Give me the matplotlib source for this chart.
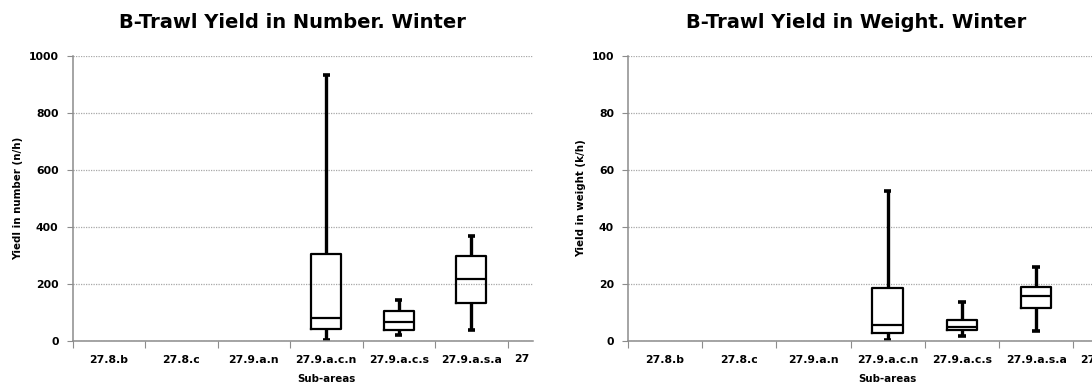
import matplotlib
matplotlib.use("Agg")
import matplotlib.pyplot as plt
from matplotlib.patches import Rectangle

plt.rcParams['font.family'] = ['DejaVu Sans']

# categories (last one is cut off at the chart edge)
sub_areas = ['27.8.b', '27.8.c', '27.9.a.n', '27.9.a.c.n', '27.9.a.c.s', '27.9.a.s.a', '27.9.a.s.c']

# box statistics for the areas that have data: (low, q1, median, q3, high)
box_areas = ['27.9.a.c.n', '27.9.a.c.s', '27.9.a.s.a']
number_low = [2, 20, 38]
number_q1 = [43, 40, 133]
number_med = [79, 67, 216]
number_q3 = [305, 105, 298]
number_high = [932, 143, 370]

weight_low = [0.5, 1.6, 3.4]
weight_q1 = [2.9, 4.0, 11.7]
weight_med = [5.7, 4.8, 15.7]
weight_q3 = [18.7, 7.5, 19.0]
weight_high = [52.7, 13.7, 26.0]

W, H = 1092, 389
fig = plt.figure(figsize=(W / 100, H / 100), dpi=100)

TICK_FS = 7.8
LABEL_FS = 7.4


def make_stats(low, q1, med, q3, high):
    return [dict(whislo=a, q1=b, med=c, q3=d, whishi=e, fliers=[])
            for a, b, c, d, e in zip(low, q1, med, q3, high)]


def draw_panel(ax, stats, title, ylabel, ymax, title_x, xlabel_x, n_cats):
    pos = [sub_areas.index(a) for a in box_areas]
    ax.bxp(stats, positions=pos, widths=0.41, showfliers=False,
           boxprops=dict(color='black', linewidth=1.6),
           medianprops=dict(color='black', linewidth=1.6, solid_capstyle='butt'),
           whiskerprops=dict(color='black', linewidth=2.4, solid_capstyle='butt'),
           capprops=dict(color='black', linewidth=2.6, solid_capstyle='butt'),
           capwidths=0.1, manage_ticks=False)
    ax.set_ylim(0, ymax)
    ax.set_yticks([ymax * i / 5 for i in range(6)])
    ax.set_yticklabels([f"{int(ymax * i / 5)}" for i in range(6)],
                       fontsize=TICK_FS, fontweight='bold')
    ax.yaxis.grid(True, linestyle=(0, (1, 1)), color='#a8a8a8', linewidth=0.9)
    ax.set_axisbelow(True)
    for s in ['top', 'right']:
        ax.spines[s].set_visible(False)
    for s in ['left', 'bottom']:
        ax.spines[s].set_color('#8c8c8c')
        ax.spines[s].set_linewidth(1.1)
    ax.tick_params(axis='y', length=4, color='#8c8c8c', pad=6)
    ax.tick_params(axis='x', which='major', length=5, color='#8c8c8c',
                   labelbottom=False)
    ax.tick_params(axis='x', which='minor', length=0, pad=10)
    ax.set_xticks([i + 0.5 for i in range(-1, n_cats)])
    ax.set_xticks(range(n_cats), minor=True)
    ax.set_xticklabels(sub_areas[:n_cats], minor=True, fontsize=TICK_FS,
                       fontweight='bold')
    ax.set_ylabel(ylabel, fontsize=LABEL_FS, fontweight='bold', labelpad=4)
    ax.set_xlabel('Sub-areas', fontsize=LABEL_FS, fontweight='bold')
    ax.xaxis.set_label_coords(xlabel_x, -0.115)
    fig.text(title_x / W, 1 - 23 / H, title, ha='center', va='center',
             fontsize=14, fontweight='bold')


y_bottom, y_top = 341, 56

# left panel: visible part ends at x = 533 px
cat_px = 72.5
left_x0, left_x1 = 72.5, 533
ax1 = fig.add_axes([left_x0 / W, (H - y_bottom) / H,
                    (left_x1 - left_x0) / W, (y_bottom - y_top) / H])
ax1.set_xlim(-0.5, -0.5 + (left_x1 - left_x0) / cat_px)
draw_panel(ax1, make_stats(number_low, number_q1, number_med, number_q3, number_high),
           'B-Trawl Yield in Number. Winter', 'Yiedl in number (n/h)', 1000,
           292, (326 - left_x0) / (left_x1 - left_x0), 6)
# the 7th category label is cut at the panel edge
cut = ax1.text(6, -(359 - y_bottom) / (y_bottom - y_top), sub_areas[6],
               transform=ax1.get_xaxis_transform(),
               ha='center', va='center', fontsize=TICK_FS, fontweight='bold',
               clip_on=True)
cut.set_clip_path(Rectangle((0, 0), 530 / W, 1, transform=fig.transFigure))

# right panel: runs past the right edge of the figure
cat_px2 = 74.2
right_x0 = 628
ax2 = fig.add_axes([right_x0 / W, (H - y_bottom) / H,
                    7.2 * cat_px2 / W, (y_bottom - y_top) / H])
ax2.set_xlim(-0.5, 6.7)
draw_panel(ax2, make_stats(weight_low, weight_q1, weight_med, weight_q3, weight_high),
           'B-Trawl Yield in Weight. Winter', 'Yield in weight (k/h)', 100,
           856, (887 - right_x0) / (7.2 * cat_px2), 7)

fig.savefig('out.png', dpi=100)
